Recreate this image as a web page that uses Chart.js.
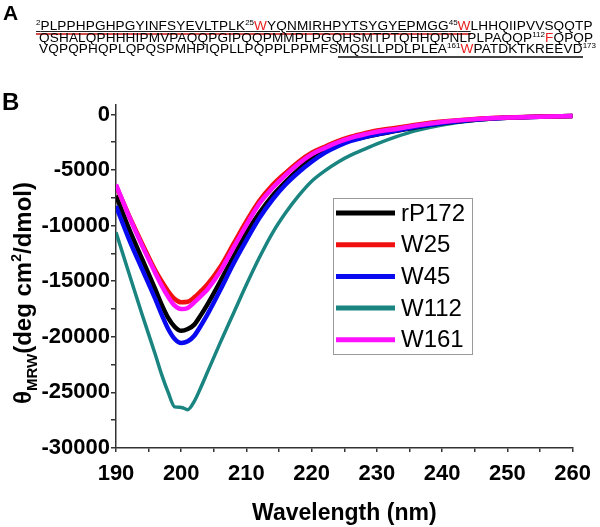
<!DOCTYPE html>
<html>
<head>
<meta charset="utf-8">
<script src="https://cdn.jsdelivr.net/npm/chart.js@4.4.0/dist/chart.umd.min.js"></script>
<style>
  html, body { margin: 0; padding: 0; background: #fff; }
  #wrap { position: relative; width: 600px; height: 527px; overflow: hidden; font-family: "Liberation Sans", Arial, sans-serif; }
  #chart { position: absolute; left: 0; top: 0; }
  .panel { position: absolute; font-weight: bold; color: #000; }
  .seq { position: absolute; left: 36px; font-size: 13.6px; line-height: 11.5px; letter-spacing: 0.14px; white-space: nowrap; color: #000; }
  .s { font-size: 8px; position: relative; top: -5px; line-height: 0; letter-spacing: 0; }
  .r { color: #e8201f; }
  .u1 { text-decoration: underline; text-decoration-color: #222; text-underline-offset: 1px; border-bottom: 2px solid #d24a48; }
  .u3 { border-bottom: 2px solid #444; }
</style>
</head>
<body>
<div id="wrap">
  <canvas id="chart" width="600" height="527"></canvas>
  <div class="panel" style="left:3px; top:2px; font-size:21px; line-height:21px;">A</div>
  <div class="panel" style="left:2px; top:90px; font-size:24px; line-height:24px;">B</div>
  <div class="seq" style="top:20px;"><span class="u1"><span class="s">2</span>PLPPHPGHPGYINFSYEVLTPLK<span class="s">25</span><span class="r">W</span>YQNMIRHPYTSYGYEPMGG<span class="s">45</span><span class="r">W</span></span>LHHQIIPVVSQQTP</div>
  <div class="seq" style="top:31.5px; left:39px;">QSHALQPHHHIPMVPAQQPGIPQQPMMPLPGQHSMTPTQHHQPNLPLPAQQP<span class="s">112</span><span class="r">F</span>QPQP</div>
  <div class="seq" style="top:43px; left:39px;">VQPQPHQPLQPQSPMHPIQPLLPQPPLPPMFS<span class="u3">MQSLLPDLPLEA<span class="s">161</span><span class="r">W</span>PATDKTKREEVD</span><span class="s">173</span></div>
</div>
<script>
// CD spectra, panel B

const wavelengths = [190, 192, 194, 196, 197, 198, 199, 200, 201, 202, 203, 204, 206, 208, 210, 212, 214, 216, 218, 220, 222, 224, 226, 228, 230, 233, 236, 240, 245, 250, 255, 260];

const rP172 = [-7300, -10300, -13000, -15700, -17100, -18300, -19100, -19460, -19300, -18900, -18050, -17100, -15000, -12800, -10650, -8850, -7300, -6050, -4950, -3950, -3250, -2700, -2300, -2050, -1800, -1480, -1150, -800, -480, -300, -200, -150];
const W25   = [-6400, -9100, -11600, -14000, -15000, -15900, -16600, -16900, -16850, -16450, -15900, -15300, -13700, -11650, -9600, -7750, -6350, -5250, -4250, -3450, -2900, -2400, -2000, -1700, -1450, -1200, -930, -640, -400, -270, -190, -140];
const W45   = [-8230, -11230, -13900, -16570, -18000, -19300, -20200, -20560, -20400, -19900, -19000, -18010, -15770, -13420, -11300, -9300, -7650, -6300, -5200, -4250, -3450, -2850, -2380, -2060, -1800, -1450, -1100, -780, -470, -300, -200, -150];
const W112  = [-10600, -14300, -18000, -21540, -23400, -25000, -26300, -26350, -26550, -25800, -24550, -23200, -20500, -17900, -15300, -12850, -10650, -8850, -7300, -6000, -5070, -4290, -3660, -3150, -2650, -2000, -1450, -950, -550, -330, -220, -160];
const W161  = [-6300, -9170, -11800, -14230, -15400, -16400, -17200, -17500, -17400, -16900, -16350, -15750, -14090, -12000, -9930, -8010, -6620, -5450, -4430, -3590, -3020, -2500, -2100, -1800, -1550, -1300, -1000, -680, -420, -280, -200, -150];

const xTicks = [190, 195, 200, 205, 210, 215, 220, 225, 230, 235, 240, 245, 250, 255, 260];
const xLabels = [190, 200, 210, 220, 230, 240, 250, 260];
const yTicks = [0, -2500, -5000, -7500, -10000, -12500, -15000, -17500, -20000, -22500, -25000, -27500, -30000];
const yLabels = [0, -5000, -10000, -15000, -20000, -25000, -30000];

const SERIES = [
  { label: 'rP172', data: rP172, color: '#000000', width: 4.5, order: 4 },
  { label: 'W25',   data: W25,   color: '#f01010', width: 4.5, order: 2 },
  { label: 'W45',   data: W45,   color: '#0a0af0', width: 4.5, order: 3 },
  { label: 'W112',  data: W112,  color: '#1a8580', width: 3.5, order: 5 },
  { label: 'W161',  data: W161,  color: '#ff10ff', width: 4.5, order: 1 },
];

const FONT = "'Liberation Sans', Arial, sans-serif";

// boxed legend inside the plot, right of the minimum
const boxLegend = {
  id: 'boxLegend',
  afterDraw(chart) {
    const { ctx, chartArea } = chart;
    const x0 = chartArea.left + 217, y0 = chartArea.top + 93;
    const w = 139, h = 156, step = 31.7;
    ctx.save();
    ctx.fillStyle = '#fff';
    ctx.fillRect(x0, y0, w, h);
    ctx.strokeStyle = '#9a9a9a';
    ctx.lineWidth = 1;
    ctx.strokeRect(x0 + 0.5, y0 + 0.5, w, h);
    ctx.font = '24px ' + FONT;
    ctx.textBaseline = 'middle';
    chart.data.datasets.forEach((ds, i) => {
      const y = y0 + 15 + i * step;
      ctx.strokeStyle = ds.borderColor;
      ctx.lineWidth = 5;
      ctx.beginPath();
      ctx.moveTo(x0 + 3, y);
      ctx.lineTo(x0 + 62, y);
      ctx.stroke();
      ctx.fillStyle = '#000';
      ctx.fillText(ds.label, x0 + 68, y + 1);
    });
    ctx.restore();
  }
};

// y title with subscript / superscript
const yTitle = {
  id: 'yTitle',
  afterDraw(chart) {
    const { ctx } = chart;
    const parts = [
      { t: '\u03b8', size: 24, dy: 0 },
      { t: 'MRW', size: 15, dy: 6 },
      { t: '(deg cm', size: 24, dy: 0 },
      { t: '2', size: 14, dy: -10 },
      { t: '/dmol)', size: 24, dy: 0 },
    ];
    ctx.save();
    ctx.translate(31, 404);
    ctx.rotate(-Math.PI / 2);
    ctx.fillStyle = '#000';
    ctx.textBaseline = 'alphabetic';
    let x = 0;
    for (const p of parts) {
      ctx.font = 'bold ' + p.size + 'px ' + FONT;
      ctx.fillText(p.t, x, p.dy);
      x += ctx.measureText(p.t).width;
    }
    ctx.restore();
  }
};

new Chart(document.getElementById('chart').getContext('2d'), {
  type: 'line',
  data: {
    datasets: SERIES.map(s => ({
      label: s.label,
      data: wavelengths.map((w, i) => ({ x: w, y: s.data[i] })),
      borderColor: s.color,
      backgroundColor: s.color,
      borderWidth: s.width,
      pointRadius: 0,
      cubicInterpolationMode: 'monotone',
      fill: false,
      order: s.order,
    }))
  },
  options: {
    responsive: false,
    animation: false,
    devicePixelRatio: 1,
    layout: { padding: { top: 105, right: 24, left: 0, bottom: 0 } },
    plugins: { legend: { display: false }, tooltip: { enabled: false } },
    scales: {
      x: {
        type: 'linear',
        min: 190,
        max: 260,
        afterBuildTicks: sc => { sc.ticks = xTicks.map(v => ({ value: v })); },
        afterFit: sc => { sc.height = 79; },
        grid: { drawOnChartArea: false, drawTicks: true, tickLength: 4, color: '#333', lineWidth: 1.5 },
        border: { display: true, color: '#333', width: 1.5 },
        ticks: {
          autoSkip: false,
          maxRotation: 0,
          padding: 9,
          color: '#000',
          font: { family: FONT, size: 22, weight: 'bold' },
          callback: v => xLabels.includes(v) ? String(v) : ''
        },
        title: {
          display: true,
          text: 'Wavelength (nm)',
          color: '#000',
          font: { family: FONT, size: 23, weight: 'bold' },
          padding: { top: 0, bottom: 0 }
        }
      },
      y: {
        min: -30000,
        max: 850,
        afterBuildTicks: sc => { sc.ticks = yTicks.map(v => ({ value: v })); },
        afterFit: sc => { sc.width = 116; },
        grid: { drawOnChartArea: false, drawTicks: true, tickLength: 5, color: '#333', lineWidth: 1.5 },
        border: { display: true, color: '#333', width: 1.5 },
        ticks: {
          autoSkip: false,
          padding: 1,
          color: '#000',
          font: { family: FONT, size: 22, weight: 'bold' },
          callback: v => yLabels.includes(v) ? String(v) : ''
        }
      }
    }
  },
  plugins: [boxLegend, yTitle]
});
</script>
</body>
</html>
